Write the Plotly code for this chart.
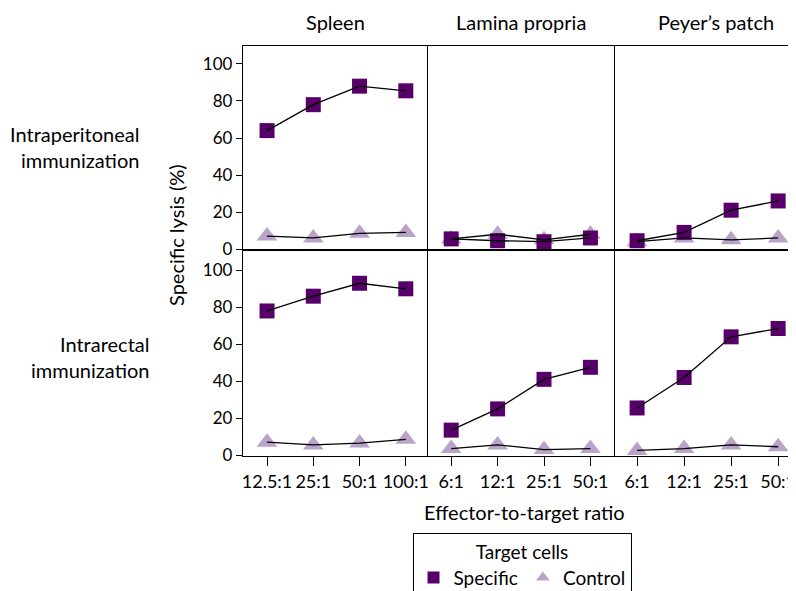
import plotly.graph_objects as go
from plotly.subplots import make_subplots

# --- data -----------------------------------------------------------------
tissues = ["Spleen", "Lamina propria", "Peyer\u2019s patch"]
routes = ["Intraperitoneal<br>immunization", "Intrarectal<br>immunization"]

spleen_ratios = ["12.5:1", "25:1", "50:1", "100:1"]
mucosal_ratios = ["6:1", "12:1", "25:1", "50:1"]

# intraperitoneal row: spleen, lamina propria, Peyer's patch
ip_specific = [[64, 78, 88, 85.5], [5.5, 4.5, 4, 6], [4.5, 9, 21, 26]]
ip_control = [[7, 6, 8.5, 9], [5.5, 8, 5, 8], [4, 6, 5, 6]]
# intrarectal row
ir_specific = [[78, 86, 93, 90], [13.5, 25, 41, 47.5], [25.5, 42, 64, 68.5]]
ir_control = [[7, 5.5, 6.5, 8.5], [3.5, 5.5, 3, 3.5], [2.5, 3.5, 5.5, 4.5]]

y_ticks = [0, 20, 40, 60, 80, 100]

SPECIFIC = "#58006A"
CONTROL = "#B9A3C9"
FONT = "Lato"

fig = make_subplots(rows=2, cols=3, horizontal_spacing=0, vertical_spacing=0,
                    column_widths=[185, 187, 181], row_heights=[204, 206])

rows = [(ip_specific, ip_control), (ir_specific, ir_control)]
for r, (spec, ctrl) in enumerate(rows, start=1):
    for c in range(3):
        labels = spleen_ratios if c == 0 else mucosal_ratios
        xs = list(range(len(labels)))
        # markers first, lines drawn over them (as in the original)
        fig.add_trace(go.Scatter(
            x=xs, y=ctrl[c], mode="markers", name="Control", showlegend=False,
            marker=dict(symbol="triangle-up", size=18, color=CONTROL),
            cliponaxis=False), row=r, col=c + 1)
        fig.add_trace(go.Scatter(
            x=xs, y=spec[c], mode="markers", name="Specific", showlegend=False,
            marker=dict(symbol="square", size=15, color=SPECIFIC),
            cliponaxis=False), row=r, col=c + 1)
        for vals in (ctrl[c], spec[c]):
            fig.add_trace(go.Scatter(
                x=xs, y=vals, mode="lines", showlegend=False, hoverinfo="skip",
                line=dict(color="black", width=1.3), cliponaxis=False),
                row=r, col=c + 1)

# legend-only entries
fig.add_trace(go.Scatter(x=[None], y=[None], mode="markers", name="Specific",
                         marker=dict(symbol="square", size=15, color=SPECIFIC)))
fig.add_trace(go.Scatter(x=[None], y=[None], mode="markers", name="Control",
                         marker=dict(symbol="triangle-up", size=17, color=CONTROL)))

x_ranges = [[-0.52, 3.48], [-0.5, 3.53], [-0.47, 3.38]]
y_ranges = [[-0.5, 109.7], [-0.5, 111]]
for r in (1, 2):
    for c in range(3):
        labels = spleen_ratios if c == 0 else mucosal_ratios
        fig.update_xaxes(
            row=r, col=c + 1, range=x_ranges[c], showgrid=False, zeroline=False,
            showline=True, mirror=True, linecolor="black", linewidth=1.3,
            tickvals=list(range(4)), ticktext=labels, tickangle=0,
            ticklabeloverflow="allow",
            ticks="outside" if r == 2 else "", ticklen=9, tickcolor="black",
            showticklabels=(r == 2), tickfont=dict(size=18, color="black"))
        fig.update_yaxes(
            row=r, col=c + 1, range=y_ranges[r - 1], showgrid=False, zeroline=False,
            showline=True, mirror=False, linecolor="black", linewidth=1.3,
            tickvals=y_ticks, ticks="outside" if c == 0 else "", ticklen=6,
            tickcolor="black", showticklabels=(c == 0),
            tickfont=dict(size=17, color="black"))

# plot area in page pixels: x 243..796, y 46..456
W = 553.0
H = 410.0


def px_x(x):
    return (x - 243) / W


def px_y(y):
    return (456 - y) / H


def note(text, x, y, **kw):
    d = dict(text=text, x=px_x(x), y=px_y(y), xref="paper", yref="paper",
             xanchor="center", yanchor="middle", showarrow=False,
             font=dict(size=20))
    d.update(kw)
    return d


annotations = [note(name, cx, 22) for name, cx in zip(tissues, [335, 521, 716])]
annotations.append(note(routes[0], 141, 147, xanchor="right", align="right"))
annotations.append(note(routes[1], 151, 357, xanchor="right", align="right"))
annotations.append(note("Specific lysis (%)", 176, 235, textangle=-90))
annotations.append(note("Effector-to-target ratio", 524, 512))

# the page body adds an 8px offset, so the figure is 8px smaller than the window
fig.update_layout(
    width=788, height=583,
    margin=dict(l=235, r=0, t=38, b=135, autoexpand=False),
    paper_bgcolor="white", plot_bgcolor="white",
    font=dict(family=FONT, size=20, color="black"),
    annotations=annotations,
    showlegend=True,
    legend=dict(
        orientation="h", x=px_x(522), xanchor="center", y=px_y(533), yanchor="top",
        title=dict(text="Target cells", side="top center", font=dict(size=19)),
        bordercolor="black", borderwidth=1, font=dict(size=19),
        itemsizing="constant", itemwidth=30, tracegroupgap=0,
    ),
)

fig.write_html("out.html")
